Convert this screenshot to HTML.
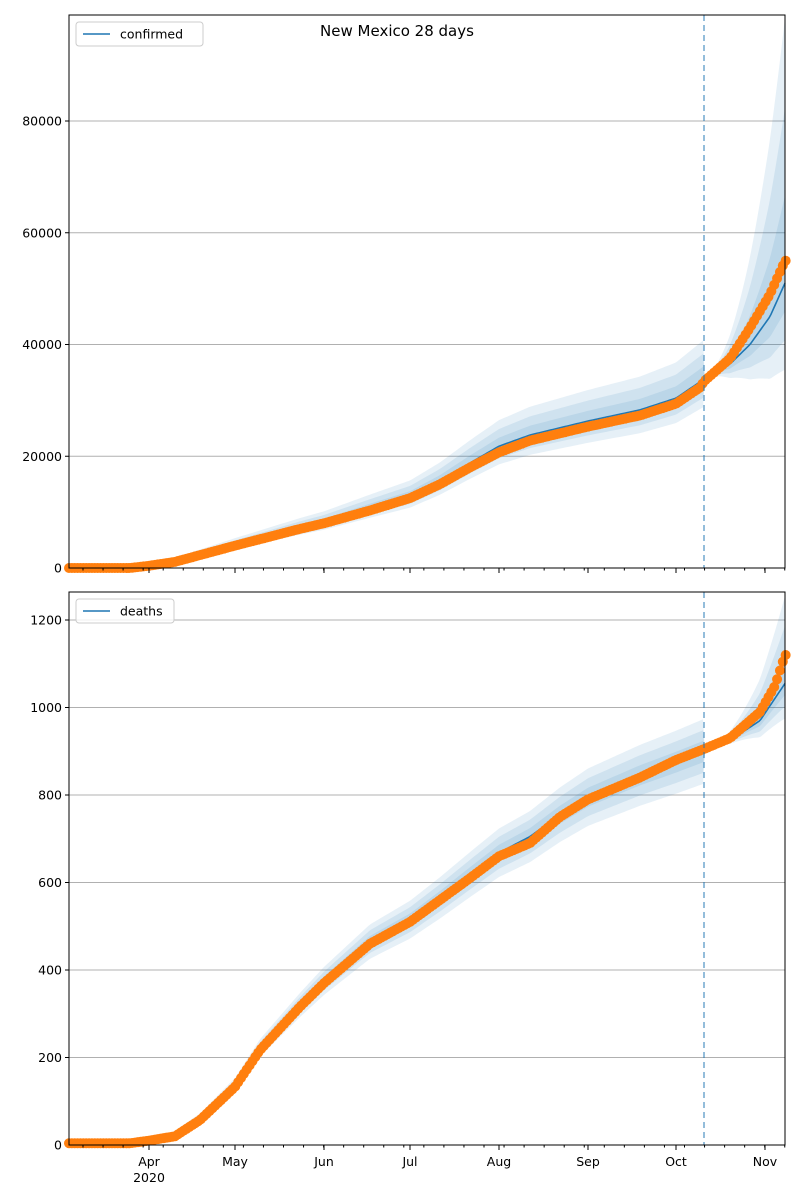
<!DOCTYPE html><html><head><meta charset="utf-8"><style>body{margin:0;background:#fff}svg{display:block;font-family:"DejaVu Sans","Liberation Sans",sans-serif}</style></head><body>
<svg id="s" width="800" height="1200" xmlns="http://www.w3.org/2000/svg"></svg>
<script>
const S=document.getElementById('s');let h='';
function lerp(pts,x){for(let i=1;i<pts.length;i++){if(x<=pts[i][0]){const a=pts[i-1],b=pts[i];return a[1]+(b[1]-a[1])*(x-a[0])/(b[0]-a[0]);}}return pts[pts.length-1][1];}
const X0=69,X1=785,DX=86/30;
function panel(top,bot,ymax,ticks,obs,model,bandF,label,legendW){
 const Y=v=>bot-(v/ymax)*(bot-top);
 ticks.forEach(t=>{const y=Y(t);if(t>0)h+=`<line x1="${X0}" x2="${X1}" y1="${y}" y2="${y}" stroke="#b0b0b0" stroke-width="1"/>`;h+=`<line x1="${X0-4}" x2="${X0}" y1="${y}" y2="${y}" stroke="#000"/><text x="${X0-7}" y="${y+4.5}" font-size="12.5" text-anchor="end">${t}</text>`;});
 [[1,0.11],[0.66,0.11],[0.33,0.11]].forEach(([k,o])=>{let up=[],lo=[];for(let x=X0;x<=X1;x+=2){const m=lerp(model,x);const [u,l]=bandF(x,m);up.push(`${x},${Y(m+(u-m)*k)}`);lo.unshift(`${x},${Y(m-(m-l)*k)}`);}h+=`<polygon points="${up.join(' ')} ${lo.join(' ')}" fill="#1f77b4" fill-opacity="${o}"/>`;});
 let p=[];for(let x=X0;x<=X1;x+=2)p.push(`${x},${Y(lerp(model,x))}`);h+=`<polyline points="${p.join(' ')}" fill="none" stroke="#1f77b4" stroke-width="1.6"/>`;
 for(let x=X0;x<=X1+1;x+=DX){h+=`<circle cx="${x}" cy="${Y(lerp(obs,x))}" r="5" fill="#ff7f0e"/>`;}
 h+=`<line x1="704" x2="704" y1="${top}" y2="${bot}" stroke="#1f77b4" stroke-opacity="0.6" stroke-width="1.6" stroke-dasharray="6,4"/>`;
 h+=`<rect x="${X0}" y="${top}" width="${X1-X0}" height="${bot-top}" fill="none" stroke="#000" stroke-width="1"/>`;
 for(let x=83;x<=X1+0.5;x+=20.05){h+=`<line x1="${x}" x2="${x}" y1="${bot}" y2="${bot+2.5}" stroke="#000"/>`;}
 [149,235,324,410,499,588,676,765].forEach(x=>h+=`<line x1="${x}" x2="${x}" y1="${bot}" y2="${bot+5}" stroke="#000"/>`);
 h+=`<rect x="${X0+7}" y="${top+7}" width="${legendW}" height="24" rx="3" fill="#fff" fill-opacity="0.8" stroke="#ccc"/><line x1="${X0+14}" x2="${X0+41}" y1="${top+19}" y2="${top+19}" stroke="#1f77b4" stroke-width="1.6"/><text x="${X0+51}" y="${top+23.5}" font-size="12.5">${label}</text>`;
}
const cObs=[[69,0],[130,0],[149,400],[175,1100],[235,4000],[300,7000],[324,8000],[370,10300],[410,12500],[440,15000],[470,18000],[499,20700],[530,22800],[588,25300],[640,27300],[676,29400],[700,32300],[704,33400],[730,37500],[750,43000],[770,49000],[785,55000]];
const cMod=[[69,0],[130,0],[149,500],[175,1300],[235,4200],[300,7200],[324,8200],[370,10700],[410,12800],[440,15500],[470,18800],[499,21800],[530,23800],[588,26300],[640,28300],[676,30400],[704,33800],[730,36500],[750,40000],[770,45000],[785,51000]];
panel(15,568,80000*553/447,[0,20000,40000,60000,80000],cObs,cMod,(x,m)=>{if(x<=704){const w=300+m*0.2;return[m+w,m-w*0.7];}const t=(x-704)/81;return[m+t*t*46000+t*1500,m-Math.pow(t,1.6)*15500];},'confirmed',127);
const dObs=[[69,4],[130,4],[149,10],[175,20],[200,57],[235,133],[260,217],[300,316],[324,370],[370,460],[410,510],[440,560],[470,610],[499,660],[530,690],[560,750],[588,790],[640,840],[676,880],[704,905],[730,930],[760,990],[775,1050],[785,1120]];
const dMod=[[69,4],[130,4],[149,12],[175,28],[200,65],[235,140],[260,222],[300,320],[324,375],[370,465],[410,515],[440,565],[470,618],[499,668],[530,705],[560,755],[588,795],[640,845],[676,875],[704,900],[730,925],[760,970],[785,1055]];
panel(592,1145,1200*553/525,[0,200,400,600,800,1000,1200],dObs,dMod,(x,m)=>{if(x<=704){const w=2+m*0.08;return[m+w,m-w];}const t=(x-704)/81;return[m+t*t*200,m-t*t*80];},'deaths',98);
h+=`<text x="397" y="36" font-size="15" text-anchor="middle">New Mexico 28 days</text>`;
[[149,'Apr'],[235,'May'],[324,'Jun'],[410,'Jul'],[499,'Aug'],[588,'Sep'],[676,'Oct'],[765,'Nov']].forEach(([x,t])=>h+=`<text x="${x}" y="1166" font-size="12.5" text-anchor="middle">${t}</text>`);
h+=`<text x="149" y="1182" font-size="12.5" text-anchor="middle">2020</text>`;
S.innerHTML=h;
</script></body></html>
